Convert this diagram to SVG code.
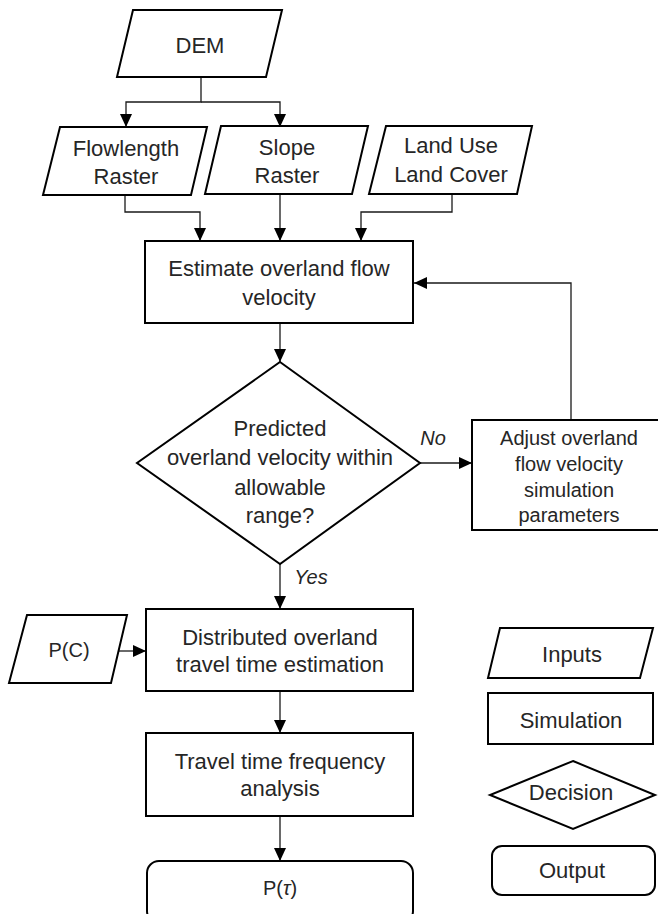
<svg xmlns="http://www.w3.org/2000/svg" width="658" height="914" viewBox="0 0 658 914">
  <style>
    .shape { fill: #ffffff; stroke: #000000; stroke-width: 2; stroke-linejoin: miter; }
    .link { fill: none; stroke: #1a1a1a; stroke-width: 1.3; }
    text { font-family: "Liberation Sans", Arial, sans-serif; font-size: 22px; fill: #262626; text-anchor: middle; dominant-baseline: central; }
    .small { font-size: 20px; }
    .label { font-style: italic; font-size: 20px; }
  </style>
  <defs>
    <marker id="arrow" viewBox="0 0 13 12" refX="13" refY="6" markerWidth="13" markerHeight="12" markerUnits="userSpaceOnUse" orient="auto">
      <path d="M0,0 L13,6 L0,12 z" fill="#000000"/>
    </marker>
  </defs>

  <rect width="658" height="914" fill="#ffffff"/>

  <!-- connectors -->
  <g id="connectors">
    <path class="link" d="M201,77 V102 H126 V127" marker-end="url(#arrow)"/>
    <path class="link" d="M201,102 H280 V127" marker-end="url(#arrow)"/>
    <path class="link" d="M125,195 V212 H200 V241" marker-end="url(#arrow)"/>
    <path class="link" d="M280,194 V241" marker-end="url(#arrow)"/>
    <path class="link" d="M452,194 V212 H361 V241" marker-end="url(#arrow)"/>
    <path class="link" d="M280,323 V362" marker-end="url(#arrow)"/>
    <path class="link" d="M420,463 H472" marker-end="url(#arrow)"/>
    <path class="link" d="M571,420 V283 H414" marker-end="url(#arrow)"/>
    <path class="link" d="M280,564 V609" marker-end="url(#arrow)"/>
    <path class="link" d="M119,651 H146" marker-end="url(#arrow)"/>
    <path class="link" d="M280,691 V733" marker-end="url(#arrow)"/>
    <path class="link" d="M280,816 V861" marker-end="url(#arrow)"/>
    <text class="label" x="433" y="438">No</text>
    <text class="label" x="311" y="577">Yes</text>
  </g>

  <!-- inputs -->
  <g id="dem">
    <polygon class="shape" points="133,10 282,10 266,77 117,77"/>
    <text x="200" y="45" font-size="21">DEM</text>
  </g>
  <g id="flowlength">
    <polygon class="shape" points="60,127 207,127 191,195 43,195"/>
    <text x="126" y="148">Flowlength</text>
    <text x="126" y="176">Raster</text>
  </g>
  <g id="slope">
    <polygon class="shape" points="221,126 368,126 352,194 205,194"/>
    <text x="287" y="147">Slope</text>
    <text x="287" y="175">Raster</text>
  </g>
  <g id="landuse">
    <polygon class="shape" points="386,126 532,126 517,194 369,194"/>
    <text x="451" y="145">Land Use</text>
    <text x="451" y="174">Land Cover</text>
  </g>

  <!-- simulation steps -->
  <g id="estimate">
    <rect class="shape" x="145" y="241" width="268" height="82"/>
    <text x="279" y="268">Estimate overland flow</text>
    <text x="279" y="297">velocity</text>
  </g>
  <g id="decision">
    <polygon class="shape" points="280,362 420,463 280,564 137,463"/>
    <text x="280" y="428">Predicted</text>
    <text x="280" y="457">overland velocity within</text>
    <text x="280" y="487">allowable</text>
    <text x="280" y="515">range?</text>
  </g>
  <g id="adjust">
    <rect class="shape" x="472" y="420" width="196" height="110"/>
    <text class="small" x="569" y="438">Adjust overland</text>
    <text class="small" x="569" y="464">flow velocity</text>
    <text class="small" x="569" y="490">simulation</text>
    <text class="small" x="569" y="515">parameters</text>
  </g>
  <g id="pc">
    <polygon class="shape" points="27,615 127,615 111,683 9,683"/>
    <text class="small" x="69" y="650">P(C)</text>
  </g>
  <g id="distributed">
    <rect class="shape" x="146" y="609" width="267" height="82"/>
    <text x="280" y="637">Distributed overland</text>
    <text x="280" y="664">travel time estimation</text>
  </g>
  <g id="frequency">
    <rect class="shape" x="146" y="733" width="267" height="83"/>
    <text x="280" y="761">Travel time frequency</text>
    <text x="280" y="788">analysis</text>
  </g>
  <g id="ptau">
    <rect class="shape" x="147" y="861" width="266" height="62" rx="12" ry="12"/>
    <text class="small" x="280" y="888">P(<tspan font-style="italic">τ</tspan>)</text>
  </g>

  <!-- legend -->
  <g id="legend-inputs">
    <polygon class="shape" points="500,628 653,628 640,678 488,678"/>
    <text x="572" y="654">Inputs</text>
  </g>
  <g id="legend-simulation">
    <rect class="shape" x="488" y="693" width="165" height="51"/>
    <text x="571" y="720">Simulation</text>
  </g>
  <g id="legend-decision">
    <polygon class="shape" points="573,761 655,795 573,829 490,795"/>
    <text x="571" y="792">Decision</text>
  </g>
  <g id="legend-output">
    <rect class="shape" x="492" y="846" width="163" height="49" rx="10" ry="10"/>
    <text x="572" y="870">Output</text>
  </g>
</svg>
